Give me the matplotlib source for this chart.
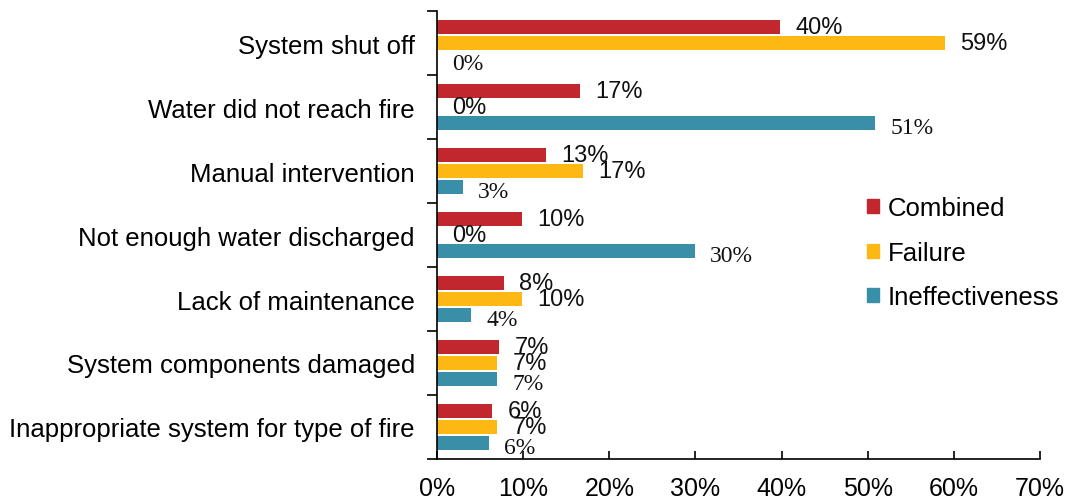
"""
Reasons for sprinkler system failure / ineffectiveness.
Horizontal grouped bar chart.
"""

import numpy as np
import matplotlib.pyplot as plt
from matplotlib.patches import Patch

categories = [
    "System shut off",
    "Water did not reach fire",
    "Manual intervention",
    "Not enough water discharged",
    "Lack of maintenance",
    "System components damaged",
    "Inappropriate system for type of fire",
]
combined = [39.8, 16.6, 12.6, 9.9, 7.8, 7.2, 6.4]
failure = [59.0, 0.0, 16.9, 0.0, 9.9, 7.0, 7.0]
ineffectiveness = [0.0, 50.9, 3.0, 29.9, 4.0, 7.0, 6.0]
series_names = ["Combined", "Failure", "Ineffectiveness"]
x_ticks = [0, 10, 20, 30, 40, 50, 60, 70]

colors = ["#C1272D", "#FDB813", "#3A8FA8"]
sans = "Liberation Sans"
serif = "Liberation Serif"

fig = plt.figure(figsize=(10.73, 5.02), dpi=100)
ax = fig.add_axes([0.4073, 0.0837, 0.5619, 0.8923])

y = np.arange(len(categories))
offsets = [-0.25, 0.0, 0.25]
all_vals = [combined, failure, ineffectiveness]
# (family, size, vertical nudge in points) for the value labels
label_styles = [(sans, 17, 0), (sans, 17, 0), (serif, 17, -3)]

for vals, off, col, (fam, fs, dy) in zip(all_vals, offsets, colors, label_styles):
    ax.barh(y + off, vals, height=0.22, color=col)
    for yi, v in zip(y, vals):
        ax.annotate(f"{v:.0f}%", (v, yi + off), xytext=(11, dy),
                    textcoords="offset points", va="center", ha="left",
                    fontsize=fs, family=fam, color="#111111")

ax.set_ylim(len(categories) - 0.5, -0.5)
ax.set_xlim(0, 70)
ax.set_xticks(x_ticks)
ax.set_xticklabels([f"{t}%" for t in x_ticks], fontsize=18, family=sans)
ax.set_yticks(y)
ax.set_yticklabels(categories, fontsize=18.5, family=sans)
ax.set_yticks(np.arange(len(categories) + 1) - 0.5, minor=True)
ax.tick_params(axis="y", which="major", length=0, pad=16)
ax.tick_params(axis="y", which="minor", length=7, width=1.2, direction="out")
ax.tick_params(axis="x", which="major", length=6, width=1.2, direction="in", pad=12)

for s in ["top", "right"]:
    ax.spines[s].set_visible(False)
for s in ["left", "bottom"]:
    ax.spines[s].set_linewidth(1.2)

handles = [Patch(color=c) for c in colors]
ax.legend(handles, series_names, loc="center left", bbox_to_anchor=(0.675, 0.46),
          frameon=False, prop={"family": sans, "size": 18.5},
          handlelength=0.45, handleheight=0.45, handletextpad=0.35, labelspacing=0.8)

fig.savefig("out.png", dpi=100)
